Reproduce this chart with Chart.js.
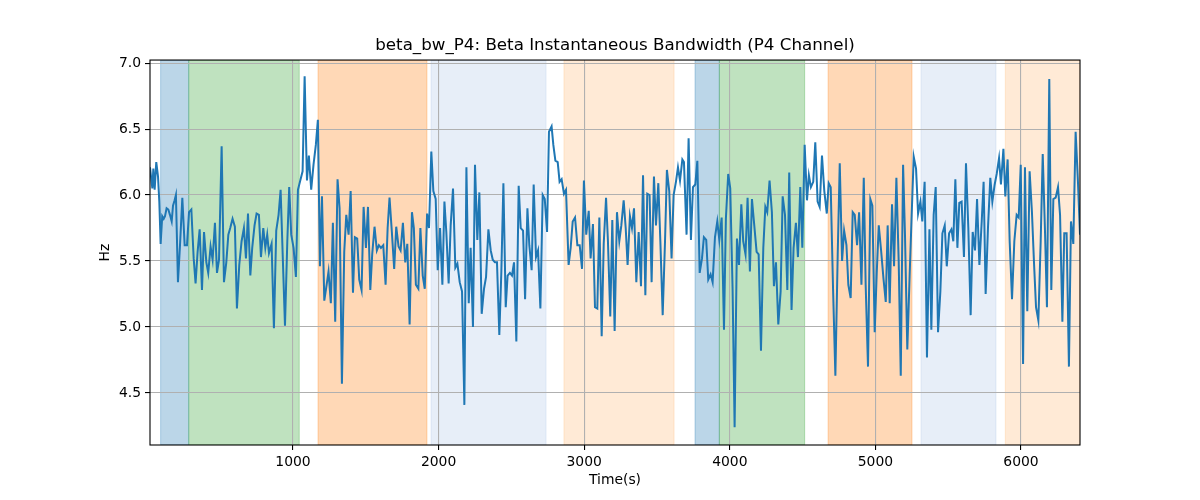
<!DOCTYPE html>
<html><head><meta charset="utf-8">
<script src="https://cdn.jsdelivr.net/npm/chart.js@4/dist/chart.umd.min.js"></script>
<style>html,body{margin:0;padding:0;background:#fff}#wrap{width:1200px;height:500px}</style>
</head><body><div id="wrap"><canvas id="c" width="1200" height="500"></canvas></div>
<script>
const times=[18,34,41,50,61,73,82,91,102,112,121,132,144,155,167,176,187,196,210,224,240,256,272,286,302,318,331,345,359,375,389,405,418,434,448,464,478,492,510,526,542,556,569,585,601,615,631,647,663,677,691,707,720,736,750,766,780,796,810,823,835,853,869,885,901,915,
945,961,974,988,1004,1020,1034,1050,1066,1080,1096,1109,1125,1141,1157,1171,1185,1199,1215,1231,1244,1260,1274,1290,1306,1320,1336,1352,1366,1382,1396,1412,1425,1441,1455,1471,1485,1501,1515,1531,1544,1560,1576,1590,1604,1620,1636,1650,1663,1679,1695,1709,1725,1739,1755,1771,1785,1801,1817,1830,1844,
1861,1875,1891,1905,1921,1934,1950,1964,1980,1994,2010,2026,2040,2053,2069,2083,2099,2115,2129,2145,2161,2177,2191,2207,2220,2236,2250,2266,2280,2296,2312,2326,2342,2358,2372,2387,2401,2417,2431,2445,2461,2474,2490,2504,2518,2534,2550,2564,2580,2594,2610,2623,2639,2653,2669,2683,2699,2715,2729,2745,2758,
2776,2788,2802,2818,2831,2845,2861,2875,2893,2907,2921,2937,2953,2969,2985,2998,3014,3031,3044,3060,3074,3090,3104,3120,3134,3150,3163,3179,3193,3209,3225,3241,3255,3271,3285,3298,3314,3328,3342,3358,3374,3390,3404,3420,3433,3449,3463,3479,3493,3509,3523,3539,3555,3568,3584,3600,3614,3630,3644,3658,3674,
3685,3703,3717,3733,3747,3763,3777,3793,3809,3822,3838,3852,3868,3882,3898,3914,3928,3944,3960,3973,3989,4003,4019,4033,4049,4063,4079,4092,4108,4122,4138,4152,4168,4184,4198,4214,4230,4244,4257,4273,4289,4303,4317,4333,4349,4363,4379,4395,4408,4424,4438,4454,4468,4484,4498,4514,4530,4543,4557,4573,4587,4603,
4617,4633,4649,4666,4679,4693,4709,4725,4741,4755,4771,4785,4801,4814,4830,4844,4858,4874,4888,4904,4920,4933,4949,4965,4979,4995,5009,5023,5039,5055,5071,5084,5098,5114,5128,5144,5160,5174,5190,5203,5219,5235,5249,5263,5279,5293,5309,5322,5338,5354,5371,5384,5400,5414,5430,5446,5460,5476,5490,5506,5522,
5535,5549,5563,5576,5592,5608,5622,5638,5654,5668,5684,5698,5714,5730,5743,5757,5773,5789,5803,5819,5833,5849,5862,5879,5892,5908,5922,5938,5954,5970,5984,5998,6014,6027,6043,6059,6075,6089,6103,6119,6135,6149,6165,6178,6194,6208,6222,6238,6254,6268,6284,6297,6313,6329,6343,6359,6375,6391,6405];
const bandwidth=[6.21,6.05,6.20,6.04,6.25,6.14,5.95,5.63,5.84,5.82,5.84,5.90,5.89,5.85,5.80,5.92,5.96,6.00,5.34,5.62,5.98,5.62,5.62,5.87,5.89,5.52,5.33,5.57,5.74,5.28,5.72,5.49,5.41,5.61,5.51,5.79,5.41,5.51,6.37,5.34,5.49,5.70,5.75,5.82,5.76,5.14,5.47,5.65,5.75,5.52,5.86,5.39,5.60,5.77,5.86,5.85,5.53,5.75,5.60,5.70,5.56,5.63,4.99,5.73,5.85,6.04,
5.01,5.65,6.06,5.70,5.60,5.38,6.04,6.11,6.18,6.90,6.11,6.30,6.04,6.23,6.38,6.57,5.46,5.99,5.20,5.32,5.42,5.18,5.79,5.04,6.12,5.90,4.57,5.57,5.85,5.70,6.03,5.26,5.68,5.67,5.36,5.28,5.91,5.60,5.91,5.28,5.55,5.76,5.58,5.62,5.60,5.62,5.32,5.75,5.98,5.72,5.44,5.76,5.61,5.58,5.79,5.49,5.63,5.02,5.87,5.75,5.32,
5.29,5.75,5.39,5.29,5.86,5.75,6.33,6.03,5.97,5.43,5.75,5.32,5.95,5.72,5.33,5.77,6.05,5.45,5.48,5.34,5.27,4.41,6.21,5.18,5.60,5.00,6.23,5.66,6.02,5.10,5.29,5.38,5.74,5.58,5.51,5.49,5.49,4.94,5.42,6.09,5.15,5.39,5.41,5.39,5.49,4.89,6.07,5.75,5.73,5.21,5.90,5.62,5.43,6.08,5.53,5.58,5.14,6.00,5.97,5.72,6.48,
6.52,6.38,6.26,6.25,6.10,6.12,6.01,6.04,5.47,5.60,5.80,5.83,5.62,5.62,5.44,6.11,5.70,5.88,5.52,5.78,5.15,5.14,5.83,4.93,5.63,5.98,5.65,5.08,5.81,4.97,5.87,5.65,5.77,5.96,5.75,5.47,5.84,5.75,5.90,5.34,5.72,5.31,6.15,5.24,6.01,6.00,5.34,6.14,5.77,6.09,5.65,5.09,5.65,6.19,6.03,5.52,6.00,6.10,6.21,6.11,6.27,
6.25,5.70,6.43,5.66,6.06,6.08,6.26,5.41,5.52,5.68,5.66,5.36,5.40,5.34,5.68,5.80,5.66,5.83,4.98,5.82,6.16,6.05,5.29,4.24,5.67,5.47,5.93,5.65,5.55,5.98,5.42,5.97,5.77,5.57,5.55,4.82,5.60,5.91,5.87,6.11,5.87,5.31,5.49,5.02,5.27,5.99,5.85,5.28,6.17,5.13,5.60,5.79,5.53,6.06,5.60,6.38,5.96,6.15,6.06,6.10,6.40,5.95,
5.91,6.30,6.03,5.86,6.09,6.06,5.29,4.63,5.55,6.24,5.50,5.73,5.62,5.32,5.22,5.87,5.85,5.62,5.87,5.32,6.13,5.32,4.70,5.97,5.92,4.96,5.41,5.77,5.58,5.37,5.19,5.77,5.18,5.93,5.46,6.13,5.49,4.63,6.23,5.70,4.83,5.39,5.85,6.29,6.20,5.86,5.95,5.80,6.10,4.77,5.74,4.98,5.85,6.06,4.96,5.27,5.71,5.77,5.46,5.71,5.74,
5.65,6.12,5.60,5.94,5.95,5.53,6.24,5.75,5.09,5.72,5.58,5.97,5.47,5.80,6.10,5.25,5.75,6.13,5.95,6.08,6.16,6.28,6.08,6.35,5.99,6.27,5.65,5.21,5.65,5.85,5.83,6.23,4.72,6.21,5.12,6.18,5.87,5.49,5.15,5.05,5.65,6.31,5.71,5.15,6.88,5.28,5.97,5.98,6.06,5.85,5.04,5.71,5.71,4.70,5.80,5.63,6.48,6.10,5.70];
const xTicks=[1000,2000,3000,4000,5000,6000];
const yTicks=[4.5,5.0,5.5,6.0,6.5,7.0];
const spanStarts=[91,284,1172,1948,2861,3761,3928,4675,5313,5892];
const spanEnds=[284,1043,1920,2738,3617,3928,4514,5251,5828,6405];
const spanKinds=[0,1,2,3,4,0,1,2,3,4];

const spanPalette=['rgba(31,119,180,0.3)','rgba(44,160,44,0.3)','rgba(255,127,14,0.3)','rgba(174,199,232,0.3)','rgba(255,187,120,0.3)'];
const FONT='DejaVu Sans';
Chart.defaults.font.family=FONT;
Chart.defaults.color='#000';

const spanPlugin={id:'spans',beforeDraw(chart){
  const {ctx,chartArea:a,scales:{x}}=chart;
  ctx.save();
  ctx.beginPath();ctx.rect(a.left,a.top,a.right-a.left,a.bottom-a.top);ctx.clip();
  for(let i=0;i<spanStarts.length;i++){
    const x0=x.getPixelForValue(spanStarts[i]),x1=x.getPixelForValue(spanEnds[i]);
    ctx.fillStyle=spanPalette[spanKinds[i]];
    ctx.fillRect(x0,a.top,x1-x0,a.bottom-a.top);
    ctx.strokeStyle=spanPalette[spanKinds[i]];ctx.lineWidth=1;
    ctx.strokeRect(x0,a.top,x1-x0,a.bottom-a.top);
  }
  ctx.restore();
}};
const framePlugin={id:'frame',afterDraw(chart){
  const {ctx,chartArea:a}=chart;
  ctx.save();ctx.strokeStyle='#000';ctx.lineWidth=1.1;
  ctx.strokeRect(a.left,a.top,a.right-a.left,a.bottom-a.top);
  ctx.restore();
}};

new Chart(document.getElementById('c'),{
  type:'line',
  data:{datasets:[{data:times.map((t,i)=>({x:t,y:bandwidth[i]})),borderColor:'#1f77b4',borderWidth:2,pointRadius:0,tension:0,fill:false}]},
  options:{
    responsive:false,animation:false,devicePixelRatio:1,
    layout:{padding:{left:0,right:120,top:0,bottom:0}},
    plugins:{legend:{display:false},tooltip:{enabled:false},
      title:{display:true,fullSize:false,text:'beta_bw_P4: Beta Instantaneous Bandwidth (P4 Channel)',font:{family:FONT,size:16.7,weight:'normal'},color:'#000',padding:{top:36,bottom:4}}},
    scales:{
      x:{type:'linear',min:18,max:6405,
        afterFit(s){s.height=55;},
        afterBuildTicks(s){s.ticks=xTicks.map(v=>({value:v}));},
        ticks:{autoSkip:false,maxRotation:0,padding:4,font:{size:13.9},callback:v=>String(v)},
        grid:{color:'#b0b0b0',lineWidth:1.1,tickLength:5,tickColor:'#000',drawTicks:true},
        border:{display:false},
        title:{display:true,text:'Time(s)',font:{size:13.9},padding:{top:0,bottom:11}}},
      y:{type:'linear',min:4.106,max:7.023,
        afterFit(s){s.width=150;},
        afterBuildTicks(s){s.ticks=yTicks.map(v=>({value:v}));},
        ticks:{autoSkip:false,padding:4,font:{size:13.9},callback:v=>v.toFixed(1)},
        grid:{color:'#b0b0b0',lineWidth:1.1,tickLength:5,tickColor:'#000',drawTicks:true},
        border:{display:false},
        title:{display:true,text:'Hz',font:{size:13.9},padding:{top:97,bottom:0}}}
    }
  },
  plugins:[spanPlugin,framePlugin]
});
</script></body></html>
